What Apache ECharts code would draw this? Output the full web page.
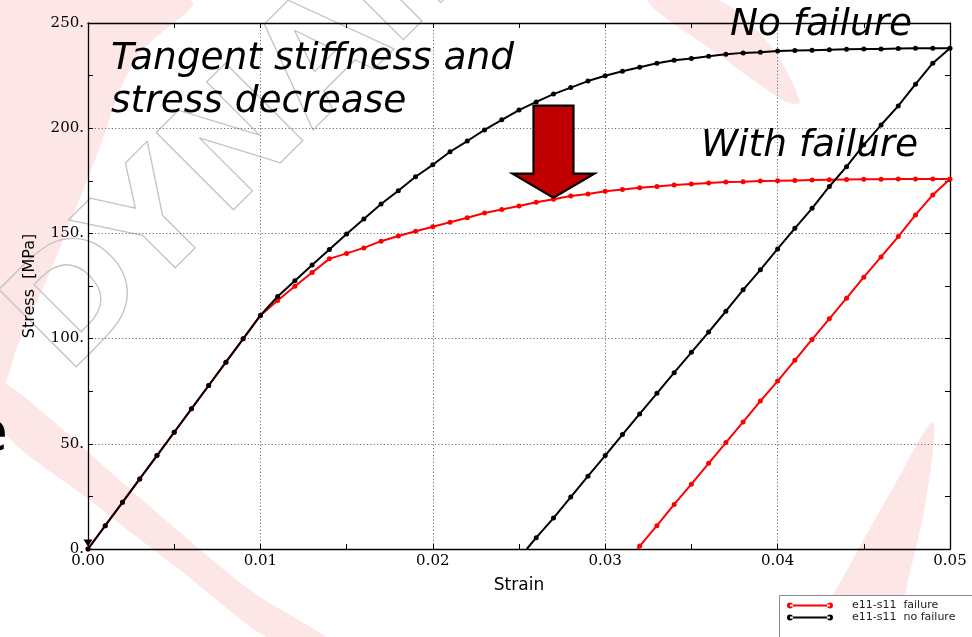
<!DOCTYPE html>
<html>
<head>
<meta charset="utf-8">
<script src="https://cdn.jsdelivr.net/npm/echarts/dist/echarts.min.js"></script>
<style>
html,body{margin:0;padding:0;background:#fff;overflow:hidden;}
#chart{width:972px;height:637px;}
</style>
</head>
<body>
<div id="chart"></div>
<script>
// Strain steps of the loading path (both runs share them)
const strainLoad = [
  0.000, 0.001, 0.002, 0.003, 0.004, 0.005, 0.006, 0.007, 0.008, 0.009,
  0.010, 0.011, 0.012, 0.013, 0.014, 0.015, 0.016, 0.017, 0.018, 0.019,
  0.020, 0.021, 0.022, 0.023, 0.024, 0.025, 0.026, 0.027, 0.028, 0.029,
  0.030, 0.031, 0.032, 0.033, 0.034, 0.035, 0.036, 0.037, 0.038, 0.039,
  0.040, 0.041, 0.042, 0.043, 0.044, 0.045, 0.046, 0.047, 0.048, 0.049,
  0.050
];

// Stress [MPa] while loading, without failure
const stressLoadNoFailure = [
  0.0, 11.1, 22.2, 33.3, 44.4, 55.5, 66.6, 77.7, 88.8, 99.9,
  111.0, 120.0, 127.5, 135.0, 142.4, 149.7, 156.8, 164.0, 170.3, 176.9,
  182.6, 188.8, 193.9, 199.2, 204.0, 208.6, 212.5, 216.2, 219.3, 222.4,
  224.9, 227.1, 229.0, 230.9, 232.3, 233.1, 234.2, 235.1, 235.8, 236.1,
  236.7, 236.9, 237.1, 237.3, 237.5, 237.6, 237.7, 237.9, 238.0, 238.0,
  238.0
];

// Stress [MPa] while loading, with failure (damage)
const stressLoadFailure = [
  0.0, 11.1, 22.2, 33.3, 44.4, 55.5, 66.6, 77.7, 88.8, 99.9,
  111.0, 118.1, 124.9, 131.4, 137.9, 140.5, 143.1, 146.3, 148.8, 151.0,
  153.2, 155.3, 157.4, 159.7, 161.4, 163.0, 164.8, 166.2, 167.8, 168.7,
  170.0, 170.9, 171.7, 172.3, 173.0, 173.5, 174.0, 174.4, 174.6, 174.9,
  175.0, 175.2, 175.4, 175.5, 175.6, 175.7, 175.7, 175.8, 175.8, 175.8,
  175.9
];

// Unloading path, without failure
const strainUnloadNoFailure = [
  0.049, 0.048, 0.047, 0.046, 0.045, 0.044, 0.043, 0.042, 0.041, 0.040,
  0.039, 0.038, 0.037, 0.036, 0.035, 0.034, 0.033, 0.032, 0.031, 0.030,
  0.029, 0.028, 0.027, 0.026, 0.02545
];
const stressUnloadNoFailure = [
  230.9, 220.9, 210.6, 201.5, 192.1, 181.7, 172.3, 161.9, 152.4, 142.6,
  132.7, 123.2, 113.0, 103.1, 93.5, 83.8, 74.0, 64.2, 54.4, 44.4,
  34.6, 24.7, 14.7, 5.4, 0.0
];

// Unloading path, with failure
const strainUnloadFailure = [
  0.049, 0.048, 0.047, 0.046, 0.045, 0.044, 0.043, 0.042, 0.041, 0.040,
  0.039, 0.038, 0.037, 0.036, 0.035, 0.034, 0.033, 0.032, 0.03186
];
const stressUnloadFailure = [
  168.3, 158.8, 148.5, 138.8, 129.2, 119.2, 109.4, 99.6, 89.7, 79.8,
  70.3, 60.4, 50.6, 40.7, 30.8, 21.2, 11.1, 1.4, 0.0
];

const seriesNames = ['e11-s11  failure', 'e11-s11  no failure'];
const xTickStep = 0.01;
const yTickStep = 50;

function curve(loadX, loadY, unX, unY) {
  const pts = loadX.map((x, i) => [x, loadY[i]]);
  unX.forEach((x, i) => {
    const last = i === unX.length - 1;
    pts.push(last ? { value: [x, unY[i]], symbol: 'none' } : [x, unY[i]]);
  });
  return pts;
}

const failureData = curve(strainLoad, stressLoadFailure, strainUnloadFailure, stressUnloadFailure);
const noFailureData = curve(strainLoad, stressLoadNoFailure, strainUnloadNoFailure, stressUnloadNoFailure);

const chart = echarts.init(document.getElementById('chart'), null, { renderer: 'canvas' });

const legendIcon = 'path://M0,3a3,3 0 1,0 6,0a3,3 0 1,0 -6,0z M3,2.1h40v1.8h-40z M40,3a3,3 0 1,0 6,0a3,3 0 1,0 -6,0z';
const pink = '#fde6e6';
const serifFont = 'DejaVu Serif';

const tickCommon = {
  axisTick: { show: true, inside: true, length: 5, lineStyle: { color: '#000', width: 1 } },
  minorTick: { show: true, splitNumber: 2, length: 5, lineStyle: { color: '#000', width: 1 } },
  axisLine: { show: true, onZero: false, lineStyle: { color: '#000', width: 1.3 } },
  minorSplitLine: { show: false }
};

const option = {
  backgroundColor: '#fff',
  animation: false,
  grid: { left: 88, right: 22, top: 23, bottom: 88, containLabel: false },
  graphic: [
    // background swoosh
    { id: 'sw1', type: 'polygon', z: -10, silent: true,
      shape: { smooth: 0.4, points: [[0,0],[190,0],[135,60],[95,160],[55,260],[20,340],[0,390]] },
      style: { fill: pink } },
    { id: 'sw2', type: 'polygon', z: -10, silent: true,
      shape: { smooth: 0.3, points: [[0,383],[40,410],[140,498],[250,590],[335,645],[280,645],[180,570],[92,502],[0,428]] },
      style: { fill: pink } },
    { id: 'sw3', type: 'polygon', z: -10, silent: true,
      shape: { smooth: 0.3, points: [[648,0],[718,0],[770,45],[800,102],[786,102],[715,52]] },
      style: { fill: pink } },
    { id: 'sw4', type: 'polygon', z: -10, silent: true,
      shape: { smooth: 0.3, points: [[933,422],[926,500],[908,580],[890,645],[812,645],[850,565],[893,488]] },
      style: { fill: pink } },
    // outlined watermark lettering
    { id: 'wm', type: 'text', z: -9, silent: true,
      x: 92, y: 402, rotation: 45 * Math.PI / 180,
      style: { text: 'DYNAmore', fontSize: 150, fontFamily: 'DejaVu Sans', fontWeight: 'bold',
        fill: 'rgba(0,0,0,0)', stroke: '#c4c4c4', lineWidth: 1.3, verticalAlign: 'bottom' } },
    // slide text clipped at the left edge
    { id: 'edge', type: 'text', z: 5, silent: true, x: -26, y: 436,
      style: { text: 'e', fontSize: 55, fontFamily: 'DejaVu Sans', fill: '#000', verticalAlign: 'middle' } },
    // legend frame, running off the lower right corner
    { id: 'legframe', type: 'rect', z: 1, silent: true,
      shape: { x: 779.5, y: 595.5, width: 260, height: 80 },
      style: { fill: '#fff', stroke: '#8c8c8c', lineWidth: 1 } },
    // annotations
    { id: 't1', type: 'text', z: 20, silent: true, x: 111, y: 59,
      style: { text: 'Tangent stiffness and', fontSize: 37.5, fontStyle: 'italic', fontFamily: 'DejaVu Sans', fill: '#000', verticalAlign: 'middle' } },
    { id: 't2', type: 'text', z: 20, silent: true, x: 111, y: 102,
      style: { text: 'stress decrease', fontSize: 37.5, fontStyle: 'italic', fontFamily: 'DejaVu Sans', fill: '#000', verticalAlign: 'middle' } },
    { id: 't3', type: 'text', z: 20, silent: true, x: 730, y: 25,
      style: { text: 'No failure', fontSize: 37.5, fontStyle: 'italic', fontFamily: 'DejaVu Sans', fill: '#000', verticalAlign: 'middle' } },
    { id: 't4', type: 'text', z: 20, silent: true, x: 701, y: 146,
      style: { text: 'With failure', fontSize: 37.5, fontStyle: 'italic', fontFamily: 'DejaVu Sans', fill: '#000', verticalAlign: 'middle' } }
  ],
  legend: {
    orient: 'vertical',
    left: 779, top: 595, z: 6,
    padding: [5, 8, 0, 8],
    itemWidth: 46, itemHeight: 6, itemGap: 1,
    textStyle: { fontFamily: 'DejaVu Sans', fontSize: 11, color: '#222', padding: [0, 0, 0, 14] },
    data: [
      { name: seriesNames[0], icon: legendIcon },
      { name: seriesNames[1], icon: legendIcon }
    ]
  },
  xAxis: [
    Object.assign({
      type: 'value', position: 'bottom', min: 0, max: 0.05, interval: xTickStep,
      name: 'Strain', nameLocation: 'middle', nameGap: 28,
      nameTextStyle: { fontFamily: 'DejaVu Sans', fontSize: 17, color: '#000' },
      axisLabel: { show: true, margin: 5, color: '#000', fontFamily: serifFont, fontSize: 15,
        showMinLabel: true, showMaxLabel: true, formatter: v => v.toFixed(2) },
      splitLine: { show: true, lineStyle: { color: '#6e6e6e', type: [1.2, 2.2], width: 1 } }
    }, tickCommon),
    Object.assign({
      type: 'value', position: 'top', min: 0, max: 0.05, interval: xTickStep,
      axisLabel: { show: false }, splitLine: { show: false }
    }, tickCommon)
  ],
  yAxis: [
    Object.assign({
      type: 'value', position: 'left', min: 0, max: 250, interval: yTickStep,
      name: 'Stress  [MPa]', nameLocation: 'middle', nameGap: 50, nameRotate: 90,
      nameTextStyle: { fontFamily: 'DejaVu Sans', fontSize: 16, color: '#000' },
      axisLabel: { show: true, margin: 4, color: '#000', fontFamily: serifFont, fontSize: 15,
        showMinLabel: true, showMaxLabel: true, formatter: v => v + '.' },
      splitLine: { show: true, lineStyle: { color: '#6e6e6e', type: [1.2, 2.2], width: 1 } }
    }, tickCommon),
    Object.assign({
      type: 'value', position: 'right', min: 0, max: 250, interval: yTickStep,
      axisLabel: { show: false }, splitLine: { show: false }
    }, tickCommon)
  ],
  series: [
    {
      name: seriesNames[0], type: 'line', xAxisIndex: 0, yAxisIndex: 0,
      data: failureData, showAllSymbol: true, symbol: 'circle', symbolSize: 5,
      color: '#ff0000', lineStyle: { color: '#ff0000', width: 2 },
      itemStyle: { color: '#ff0000' }, z: 3, clip: false
    },
    {
      name: seriesNames[1], type: 'line', xAxisIndex: 0, yAxisIndex: 0,
      data: noFailureData, showAllSymbol: true, symbol: 'circle', symbolSize: 5,
      color: '#000000', lineStyle: { color: '#000000', width: 2 },
      itemStyle: { color: '#000000' }, z: 4, clip: false,
      markPoint: {
        silent: true, symbol: 'triangle', symbolRotate: 180, symbolSize: [9, 7], symbolOffset: [0, -6],
        label: { show: false }, itemStyle: { color: '#000' },
        data: [{ coord: [0, 0] }]
      }
    }
  ]
};

chart.setOption(option);

// Downward arrow pointing at the softened curve
const tip = chart.convertToPixel({ xAxisIndex: 0, yAxisIndex: 0 }, [0.0270, 167.0]);
const tx = tip[0], ty = tip[1];
chart.setOption({
  graphic: [{
    id: 'arrow', type: 'polygon', z: 30, silent: true,
    shape: { points: [
      [tx - 20, ty - 92], [tx + 20, ty - 92], [tx + 20, ty - 24], [tx + 41, ty - 24],
      [tx, ty], [tx - 41, ty - 24], [tx - 20, ty - 24]
    ] },
    style: { fill: '#c00000', stroke: '#000', lineWidth: 2.2, lineJoin: 'miter' }
  }]
});
</script>
</body>
</html>
